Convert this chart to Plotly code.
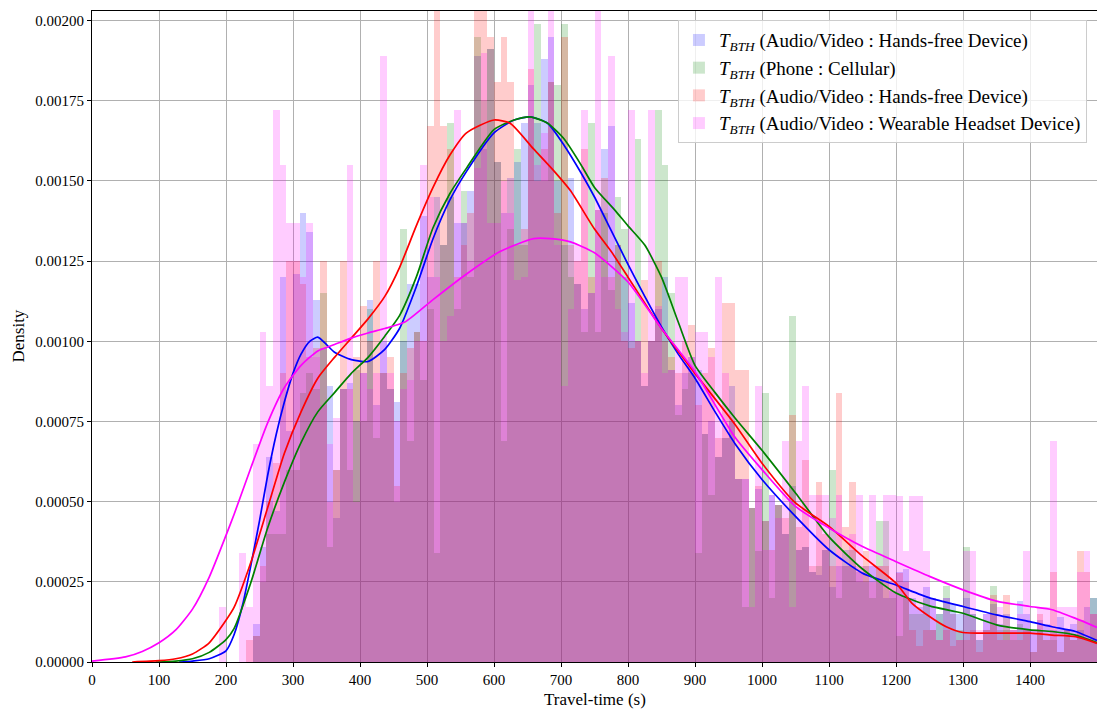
import plotly.graph_objects as go

# ---------------- data (density values in units of 1e-3) ----------------
bin_starts = list(range(190, 1500, 10))  # 10 s bins, 190 .. 1490

blue_hist = [
    0, 0, 0, 0, 0,
    0.12, 0.36, 0.64, 0.47, 1.2, 0.72,
    1.21, 1.4, 1.34, 1.13, 0.98, 0.86, 0.45, 0.85, 0.87, 0.75,
    0.9, 1.13, 0.8, 1.0, 0.85, 0.81, 1.0, 1.18, 1.18, 1.39,
    1.2, 1.45, 1.3, 1.45, 1.37, 1.37, 1.47, 1.89, 1.6, 1.91,
    1.56, 1.4, 1.51, 1.56, 1.68, 1.8, 1.68, 1.88, 1.95, 1.5,
    1.3, 1.51, 1.18, 1.1, 1.15, 1.41, 1.6, 1.67, 1.3, 1.2,
    1.12, 1.0, 0.86, 1.0, 1.1, 1.2, 0.91, 0.8, 0.9, 0.95,
    0.91, 0.71, 0.75, 0.64, 0.7, 0.86, 0.57, 0.57, 0.48, 0.54,
    0.44, 0.52, 0.49, 0.4, 0.55, 0.35, 0.36, 0.28, 0.27, 0.35,
    0.235, 0.3, 0.35, 0.3, 0.28, 0.25, 0.3, 0.25, 0.2, 0.22,
    0.28, 0.29, 0.2, 0.17, 0.235, 0.2, 0.15, 0.2, 0.18, 0.15,
    0.2, 0.15, 0.07, 0.15, 0.18, 0.12, 0.15, 0.1, 0.19, 0.15,
    0.1, 0.13, 0.12, 0.1, 0.14, 0.1, 0.12, 0.1, 0.17, 0.2,
]
green_hist = [
    0, 0, 0, 0, 0,
    0.08, 0.25, 0.4, 0.4, 0.4, 0.6,
    0.6, 0.84, 0.9, 0.85, 1.15, 0.36, 0.6, 0.85, 0.6, 0.91,
    0.75, 1.1, 0.7, 0.9, 0.85, 0.5, 1.35, 0.69, 1.03, 0.88,
    1.1, 0.34, 1.3, 1.68, 1.1, 1.47, 1.2, 1.95, 1.75, 1.91,
    1.56, 0.69, 1.35, 1.6, 1.3, 1.7, 1.99, 1.5, 1.81, 1.8,
    1.99, 1.2, 1.18, 1.03, 1.68, 1.03, 1.4, 1.16, 1.45, 1.35,
    1.0, 1.63, 0.86, 1.0, 1.72, 1.55, 1.15, 0.77, 0.85, 0.9,
    0.34, 0.71, 0.52, 0.64, 0.7, 0.75, 0.57, 0.17, 0.48, 0.345,
    0.84, 0.2, 0.49, 0.4, 1.08, 0.35, 0.36, 0.28, 0.3, 0.35,
    0.6, 0.2, 0.3, 0.35, 0.25, 0.3, 0.2, 0.44, 0.44, 0.2,
    0.08, 0.2, 0.15, 0.15, 0.2, 0.1, 0.15, 0.237, 0.15, 0.1,
    0.36, 0.15, 0.07, 0.1, 0.237, 0.1, 0.1, 0.07, 0.12, 0.1,
    0.03, 0.1, 0.07, 0.07, 0.03, 0.1, 0.07, 0.13, 0.07, 0.2,
]
red_hist = [
    0, 0, 0, 0, 0.07,
    0.08, 0.3, 0.5, 0.62, 0.9, 1.25,
    1.25, 1.18, 0.95, 0.98, 1.25, 0.5, 0.6, 1.25, 0.85, 0.95,
    1.11, 1.0, 1.25, 0.9, 0.95, 0.55, 0.9, 0.98, 1.03, 1.0,
    1.67, 2.05, 1.67, 1.6, 1.2, 1.3, 1.4, 2.05, 2.05, 1.95,
    1.81, 1.95, 1.81, 1.3, 1.35, 1.85, 1.5, 1.6, 1.81, 1.4,
    1.95, 1.3, 1.25, 1.6, 1.2, 1.41, 1.51, 1.2, 1.3, 1.0,
    0.98, 1.0, 1.19, 1.0, 1.25, 1.0, 0.95, 0.9, 1.0, 1.05,
    0.8, 0.9, 0.98, 0.7, 1.12, 1.12, 0.91, 0.91, 0.48, 0.55,
    0.44, 0.35, 0.49, 0.45, 0.77, 0.42, 0.63, 0.3, 0.56, 0.4,
    0.3, 0.84, 0.42, 0.56, 0.3, 0.345, 0.25, 0.3, 0.3, 0.25,
    0.277, 0.25, 0.1, 0.05, 0.1, 0.1, 0.07, 0.1, 0.05, 0.07,
    0.07, 0.1, 0.03, 0.1, 0.21, 0.07, 0.21, 0.1, 0.07, 0.1,
    0.03, 0.15, 0.07, 0.28, 0.03, 0.1, 0.07, 0.347, 0.28, 0.15,
]
magenta_hist = [
    0.17, 0, 0, 0.34, 0.17,
    0.68, 1.03, 0.86, 1.72, 1.55, 1.37,
    1.37, 1.2, 1.37, 0.95, 0.8, 0.68, 0.76, 0.85, 1.55, 0.5,
    0.9, 0.85, 0.9, 1.89, 0.9, 0.75, 0.85, 0.88, 1.0, 1.55,
    1.45, 1.2, 1.0, 1.08, 1.72, 1.37, 1.25, 1.54, 1.9, 1.37,
    1.37, 1.5, 1.4, 1.19, 1.2, 2.05, 1.55, 1.65, 2.03, 1.3,
    0.86, 1.1, 1.3, 1.72, 1.15, 2.05, 1.2, 1.89, 1.1, 1.03,
    1.72, 1.0, 0.9, 1.72, 1.11, 0.9, 0.91, 1.2, 1.2, 0.95,
    1.03, 1.03, 0.95, 1.2, 0.9, 0.75, 0.57, 0.57, 0.17, 0.86,
    0.35, 0.52, 0.45, 0.69, 0.17, 0.69, 0.86, 0.52, 0.52, 0.52,
    0.45, 0.52, 0.3, 0.4, 0.52, 0.3, 0.52, 0.3, 0.52, 0.52,
    0.517, 0.345, 0.517, 0.517, 0.345, 0.2, 0.07, 0.2, 0.15, 0.07,
    0.345, 0.345, 0.1, 0.15, 0.15, 0.17, 0.07, 0.1, 0.15, 0.345,
    0.1, 0.17, 0.17, 0.69, 0.17, 0.17, 0.17, 0.28, 0.345, 0.15,
]

# KDE curves (x in s, density in 1e-3)
blue_kde_x = [130, 150, 175, 200, 212, 225, 237, 250, 262, 275, 287, 300, 312, 325, 337, 350, 362,
              387, 412, 437, 459, 484, 509, 534, 559, 600, 630, 654, 680, 705, 730, 750, 775, 800,
              825, 850, 875, 900, 930, 960, 1000, 1050, 1100, 1150, 1200, 1250, 1300, 1350, 1400,
              1433, 1468, 1500]
blue_kde_y = [0.0, 0.003, 0.01, 0.035, 0.085, 0.18, 0.3, 0.44, 0.58, 0.71, 0.81, 0.9, 0.96, 1.0,
              1.013, 0.99, 0.966, 0.943, 0.937, 0.975, 1.04, 1.17, 1.32, 1.44, 1.53, 1.65, 1.69,
              1.70, 1.68, 1.61, 1.525, 1.45, 1.345, 1.24, 1.14, 1.045, 0.96, 0.885, 0.78, 0.68,
              0.569, 0.454, 0.35, 0.277, 0.24, 0.2, 0.173, 0.147, 0.126, 0.11, 0.095, 0.067]

green_kde_x = [95, 125, 150, 175, 200, 212, 237, 262, 287, 312, 337, 362, 387, 412, 437, 459, 484,
               509, 534, 559, 600, 630, 654, 680, 705, 730, 750, 780, 800, 825, 850, 875, 900, 930,
               960, 1000, 1050, 1100, 1150, 1200, 1250, 1300, 1350, 1400, 1433, 1468, 1500]
green_kde_y = [0.0, 0.003, 0.01, 0.03, 0.07, 0.104, 0.247, 0.417, 0.56, 0.684, 0.78, 0.84, 0.9,
               0.95, 1.016, 1.08, 1.2, 1.354, 1.46, 1.54, 1.66, 1.69, 1.70, 1.68, 1.63, 1.55, 1.48,
               1.41, 1.36, 1.30, 1.2, 1.06, 0.925, 0.84, 0.76, 0.66, 0.527, 0.39, 0.29, 0.215,
               0.175, 0.152, 0.116, 0.1, 0.095, 0.084, 0.06]

red_kde_x = [60, 100, 125, 150, 175, 200, 212, 237, 262, 287, 312, 337, 362, 387, 412, 437, 459,
             484, 509, 534, 559, 600, 624, 659, 690, 714, 750, 775, 800, 850, 900, 960, 1000, 1050,
             1100, 1150, 1200, 1224, 1250, 1275, 1300, 1350, 1400, 1433, 1468, 1500]
red_kde_y = [0.0, 0.004, 0.01, 0.025, 0.06, 0.13, 0.17, 0.31, 0.48, 0.65, 0.78, 0.885, 0.95, 1.01,
             1.07, 1.14, 1.23, 1.36, 1.48, 1.58, 1.65, 1.69, 1.68, 1.60, 1.53, 1.47, 1.35, 1.28,
             1.2, 1.04, 0.9, 0.74, 0.62, 0.496, 0.423, 0.33, 0.246, 0.183, 0.142, 0.11, 0.092,
             0.09, 0.09, 0.084, 0.079, 0.058]

magenta_kde_x = [0, 50, 75, 100, 125, 150, 175, 200, 212, 237, 262, 287, 312, 337, 362, 387, 412,
                 437, 467, 509, 559, 609, 659, 684, 714, 750, 800, 850, 900, 960, 1000, 1050, 1100,
                 1150, 1200, 1250, 1300, 1350, 1400, 1433, 1468, 1500]
magenta_kde_y = [0.003, 0.016, 0.033, 0.06, 0.1, 0.165, 0.265, 0.395, 0.46, 0.605, 0.745, 0.855,
                 0.925, 0.97, 0.99, 1.01, 1.026, 1.04, 1.06, 1.13, 1.21, 1.28, 1.32, 1.32, 1.31,
                 1.276, 1.185, 1.04, 0.905, 0.70, 0.60, 0.485, 0.418, 0.36, 0.313, 0.267, 0.225,
                 0.19, 0.173, 0.163, 0.136, 0.108]

labels = [
    "<i>T</i><sub><i>BTH</i></sub> (Audio/Video : Hands-free Device)",
    "<i>T</i><sub><i>BTH</i></sub> (Phone : Cellular)",
    "<i>T</i><sub><i>BTH</i></sub> (Audio/Video : Hands-free Device)",
    "<i>T</i><sub><i>BTH</i></sub> (Audio/Video : Wearable Headset Device)",
]
x_ticks = list(range(0, 1500, 100))
y_ticks = [0.0, 0.00025, 0.0005, 0.00075, 0.001, 0.00125, 0.0015, 0.00175, 0.002]
x_title = "Travel-time (s)"
y_title = "Density"

# ---------------- figure ----------------
SCALE = 1e-3
centers = [b + 5 for b in bin_starts]
hists = [blue_hist, green_hist, red_hist, magenta_hist]
fills = ["rgba(0,0,255,0.2)", "rgba(0,128,0,0.2)", "rgba(255,0,0,0.2)", "rgba(255,0,255,0.2)"]
line_cols = ["#0000ff", "#008000", "#ff0000", "#ff00ff"]
kdes = [(blue_kde_x, blue_kde_y), (green_kde_x, green_kde_y),
        (red_kde_x, red_kde_y), (magenta_kde_x, magenta_kde_y)]

fig = go.Figure()
for h, c, lab in zip(hists, fills, labels):
    fig.add_trace(go.Bar(
        x=centers, y=[v * SCALE for v in h], width=10,
        marker=dict(color=c, line=dict(width=0)), name=lab,
    ))
for (kx, ky), lc in zip(kdes, line_cols):
    fig.add_trace(go.Scatter(
        x=kx, y=[v * SCALE for v in ky], mode="lines",
        line=dict(color=lc, width=1.7, shape="spline", smoothing=0.6),
        showlegend=False, hoverinfo="skip",
    ))

# the page body adds an 8 px offset; margins compensate so the plot area
# sits at x 92..1097, y 11..662 in the window
font_family = "Liberation Serif, DejaVu Serif, serif"
fig.update_layout(
    width=1105, height=711,
    margin=dict(l=84, r=16, t=3, b=57),
    paper_bgcolor="white", plot_bgcolor="white",
    barmode="overlay", bargap=0,
    font=dict(family=font_family, size=15, color="black"),
    legend=dict(
        x=0.99, y=0.986, xanchor="right", yanchor="top",
        bgcolor="rgba(255,255,255,0.8)", bordercolor="#cccccc", borderwidth=1,
        font=dict(size=19), tracegroupgap=0,
    ),
    showlegend=True,
    annotations=[
        dict(text=x_title, xref="paper", yref="paper", x=0.5, y=-0.058,
             xanchor="center", yanchor="middle", showarrow=False, font=dict(size=17)),
        dict(text=y_title, xref="paper", yref="paper", x=-0.0736, y=0.5,
             xanchor="center", yanchor="middle", showarrow=False, textangle=-90,
             font=dict(size=17)),
    ],
)
fig.update_xaxes(
    range=[0, 1500], tickvals=x_ticks, ticks="outside", ticklen=4, tickcolor="black",
    showgrid=True, gridcolor="#b0b0b0", gridwidth=1,
    showline=True, linecolor="black", linewidth=1, mirror=True,
    automargin=False, layer="above traces", zeroline=False,
)
fig.update_yaxes(
    range=[0, 0.00203], tickvals=y_ticks, tickformat=".5f", ticks="outside", ticklen=4,
    tickcolor="black",
    showgrid=True, gridcolor="#b0b0b0", gridwidth=1,
    showline=True, linecolor="black", linewidth=1, mirror=True,
    automargin=False, layer="above traces", zeroline=False,
)

fig.write_html("out.html")
